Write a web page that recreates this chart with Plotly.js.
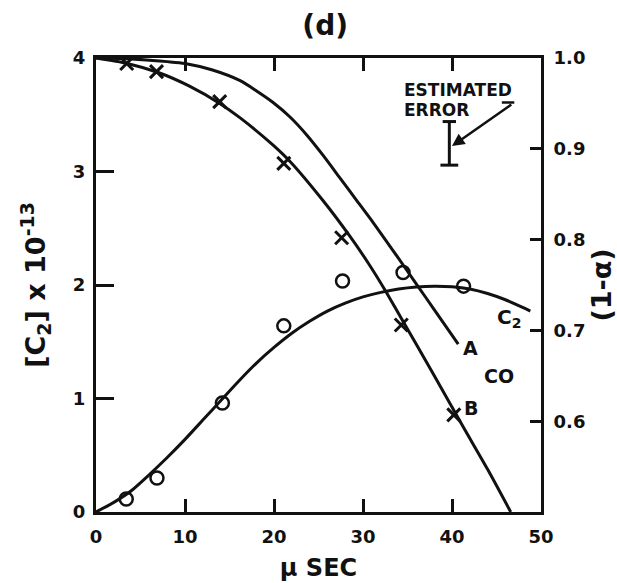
<!DOCTYPE html>
<html>
<head>
<meta charset="utf-8">
<script src="https://cdn.plot.ly/plotly-3.0.1.min.js"></script>
<style>html,body{margin:0;padding:0;background:#fff;}#chart{width:617px;height:583px;}</style>
</head>
<body>
<div id="chart"></div>
<script>
// ---- data ----
// measured (1-alpha) points (X markers)
const xMarkT = [3.45, 6.8, 13.9, 21.1, 27.6, 34.3, 40.2];
const xMarkV = [0.994, 0.985, 0.952, 0.884, 0.802, 0.706, 0.607];
// measured [C2] points (open circles)
const circT = [3.4, 6.85, 14.2, 21.1, 27.7, 34.5, 41.3];
const circV = [0.115, 0.30, 0.96, 1.64, 2.035, 2.11, 1.99];
// curve A (1-alpha)
const curveAT = [0, 4, 8, 10, 13, 16.2, 18, 19.9, 21.8, 23.7, 25.5, 27.4, 29.3, 31.2, 33.8, 36, 38, 40.7];
const curveAV = [1.0, 0.999, 0.996, 0.994, 0.987, 0.975, 0.964, 0.951, 0.935, 0.915, 0.893, 0.868, 0.843, 0.818, 0.782, 0.751, 0.723, 0.685];
// curve B (1-alpha)
const curveBT = [0, 3.5, 7, 10.5, 13.9, 16.2, 19.9, 21.8, 25.5, 28.5, 30.6, 32.5, 34.2, 37.9, 41.3, 44, 46.6];
const curveBV = [1.0, 0.994, 0.984, 0.969, 0.950, 0.934, 0.904, 0.886, 0.843, 0.804, 0.774, 0.744, 0.715, 0.652, 0.593, 0.547, 0.5];
// curve C2
const curveCT = [0, 2, 4, 6, 8, 10, 12, 14, 16, 18, 20, 22, 24, 26, 28, 30, 32, 34, 36, 38, 40, 42, 44, 46, 48, 48.8];
const curveCV = [0, 0.085, 0.19, 0.33, 0.48, 0.64, 0.81, 0.98, 1.15, 1.31, 1.45, 1.575, 1.68, 1.77, 1.84, 1.895, 1.935, 1.965, 1.983, 1.99, 1.985, 1.965, 1.925, 1.87, 1.80, 1.77];
// ticks
const xTicks = [0, 10, 20, 30, 40, 50];
const yTicks = [0, 1, 2, 3, 4];
const y2Ticks = [0.6, 0.7, 0.8, 0.9, 1.0];
const y2TickText = ['0.6', '0.7', '0.8', '0.9', '1.0'];
// estimated error bar (on right axis)
const errT = 39.7, errLow = 0.882, errHigh = 0.930;

const FONT = 'DejaVu Sans, Arial, sans-serif';
const ink = '#111';

const traces = [
  {x: curveCT, y: curveCV, mode: 'lines', line: {color: ink, width: 3, shape: 'spline', smoothing: 0.7}, yaxis: 'y', name: 'C2'},
  {x: curveAT, y: curveAV, mode: 'lines', line: {color: ink, width: 3, shape: 'spline', smoothing: 0.7}, yaxis: 'y2', name: 'A'},
  {x: curveBT, y: curveBV, mode: 'lines', line: {color: ink, width: 3, shape: 'spline', smoothing: 0.7}, yaxis: 'y2', name: 'B'},
  {x: xMarkT, y: xMarkV, mode: 'markers', marker: {symbol: 'x-thin', size: 13, line: {color: ink, width: 3}}, yaxis: 'y2', name: '(1-α)'},
  {x: circT, y: circV, mode: 'markers', marker: {symbol: 'circle-open', size: 13, color: ink, line: {color: ink, width: 2.5}}, yaxis: 'y', name: '[C2]'}
];

const tickFont = {family: FONT, size: 18, color: ink, weight: 'bold'};

const layout = {
  width: 617, height: 583,
  margin: {l: 96, r: 76, t: 58, b: 71, pad: 0},
  paper_bgcolor: '#fff', plot_bgcolor: '#fff',
  showlegend: false,
  title: {text: '(d)', font: {family: FONT, size: 28, color: ink, weight: 'bold'}, x: 0.527, xanchor: 'center', y: 0.957, yanchor: 'middle'},
  xaxis: {
    range: [0, 50], tickvals: xTicks, ticks: 'inside', ticklen: 13, tickwidth: 3, tickcolor: ink,
    showline: true, linewidth: 3, linecolor: ink, mirror: 'ticks', showgrid: false, zeroline: false,
    tickfont: tickFont, ticklabelstandoff: 6,
    title: {text: 'μ SEC\u00a0\u00a0\u00a0', font: {family: FONT, size: 24, color: ink, weight: 'bold'}, standoff: 14}
  },
  yaxis: {
    range: [0, 4], tickvals: yTicks, ticks: 'inside', ticklen: 18, tickwidth: 3, tickcolor: ink,
    showline: true, linewidth: 3, linecolor: ink, showgrid: false, zeroline: false,
    tickfont: tickFont, ticklabelstandoff: 4,
    title: {text: '[C<sub>2</sub>] x 10<sup>-13</sup>', font: {family: FONT, size: 27, color: ink, weight: 'bold'}, standoff: 20}
  },
  yaxis2: {
    range: [0.5, 1.0], tickvals: y2Ticks, ticktext: y2TickText, overlaying: 'y', side: 'right',
    ticks: 'inside', ticklen: 11, tickwidth: 3, tickcolor: ink,
    showline: true, linewidth: 3, linecolor: ink, showgrid: false, zeroline: false,
    tickfont: tickFont, ticklabelstandoff: 6,
    title: {text: '(1-α)', font: {family: FONT, size: 27, color: ink, weight: 'bold'}, standoff: 8}
  },
  shapes: [
    {type: 'line', xref: 'x', yref: 'y2', x0: errT, x1: errT, y0: errLow, y1: errHigh, line: {color: ink, width: 3}},
    {type: 'line', xref: 'x', yref: 'y2', x0: errT - 0.75, x1: errT + 0.75, y0: errHigh, y1: errHigh, line: {color: ink, width: 3}},
    {type: 'line', xref: 'x', yref: 'y2', x0: errT - 1.0, x1: errT + 1.0, y0: errLow, y1: errLow, line: {color: ink, width: 3}},
    {type: 'line', xref: 'x', yref: 'y2', x0: 45.6, x1: 47.0, y0: 0.951, y1: 0.951, line: {color: ink, width: 2.5}}
  ],
  annotations: [
    {text: 'ESTIMATED', xref: 'x', yref: 'y2', x: 34.4, y: 0.965, xanchor: 'left', yanchor: 'middle', showarrow: false, font: {family: FONT, size: 17, color: ink, weight: 'bold'}},
    {text: 'ERROR', xref: 'x', yref: 'y2', x: 34.4, y: 0.943, xanchor: 'left', yanchor: 'middle', showarrow: false, font: {family: FONT, size: 17, color: ink, weight: 'bold'}},
    {text: ' ', xref: 'x', yref: 'y2', x: 40.0, y: 0.903, axref: 'x', ayref: 'y2', ax: 47.0, ay: 0.951, showarrow: true, arrowhead: 2, arrowsize: 1, arrowwidth: 2.5, arrowcolor: ink, standoff: 0, startstandoff: 0},
    {text: 'A', xref: 'x', yref: 'y2', x: (470.7 - 96) / 8.9, y: 0.5 + (513 - 348.3) / 910, showarrow: false, font: {family: FONT, size: 19, color: ink, weight: 'bold'}},
    {text: 'B', xref: 'x', yref: 'y2', x: (471 - 96) / 8.9, y: 0.5 + (513 - 408.3) / 910, showarrow: false, font: {family: FONT, size: 19, color: ink, weight: 'bold'}},
    {text: 'CO', xref: 'x', yref: 'y2', x: (499.3 - 96) / 8.9, y: 0.5 + (513 - 376.7) / 910, showarrow: false, font: {family: FONT, size: 19, color: ink, weight: 'bold'}},
    {text: 'C<sub>2</sub>', xref: 'x', yref: 'y2', x: (509 - 96) / 8.9, y: 0.5 + (513 - 319) / 910, showarrow: false, font: {family: FONT, size: 20, color: ink, weight: 'bold'}}
  ]
};

Plotly.newPlot('chart', traces, layout, {staticPlot: true, displayModeBar: false});
</script>
</body>
</html>
